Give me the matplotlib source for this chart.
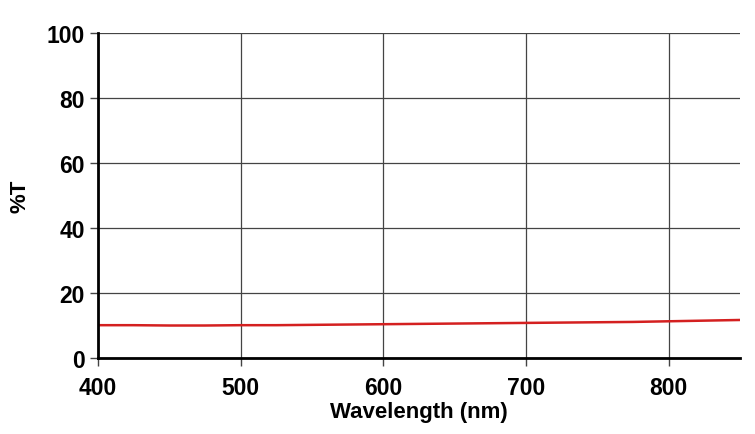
import numpy as np
import matplotlib.pyplot as plt

plt.rcParams['font.family'] = ['Liberation Sans', 'DejaVu Sans']

# transmission curve
wavelength = [400, 425, 450, 475, 500, 525, 550, 575, 600, 625, 650, 675,
              700, 725, 750, 775, 800, 825, 850]
transmission = [10.1, 10.1, 10.0, 10.0, 10.1, 10.1, 10.2, 10.3, 10.4, 10.5,
                10.6, 10.7, 10.8, 10.9, 11.0, 11.1, 11.3, 11.5, 11.7]

x_ticks = [400, 500, 600, 700, 800]
y_ticks = [0, 20, 40, 60, 80, 100]

fig = plt.figure(figsize=(7.55, 4.35), dpi=100)
ax = fig.add_axes([0.1298, 0.1747, 0.8502, 0.7471])

ax.plot(wavelength, transmission, color='#d42020', linewidth=1.8)

ax.set_xlim(400, 850)
ax.set_ylim(0, 100)
ax.set_xticks(x_ticks)
ax.set_yticks(y_ticks)
ax.grid(True, color='#444444', linewidth=0.9)
ax.set_axisbelow(True)

for side in ['top', 'right']:
    ax.spines[side].set_visible(False)
for side in ['left', 'bottom']:
    ax.spines[side].set_linewidth(2)
    ax.spines[side].set_color('black')

ax.tick_params(axis='both', labelsize=16.5, width=1, length=6, color='#444444')
ax.tick_params(axis='x', pad=7)
for lbl in ax.get_xticklabels() + ax.get_yticklabels():
    lbl.set_fontweight('bold')

ax.set_xlabel('Wavelength (nm)', fontsize=16, fontweight='bold')
ax.set_ylabel('%T', fontsize=16, fontweight='bold')
ax.xaxis.set_label_coords(0.5, -0.166, transform=ax.transAxes)
ax.yaxis.set_label_coords(-0.1215, 0.5, transform=ax.transAxes)
ax.xaxis.label.set_va('center')
ax.yaxis.label.set_va('center')

fig.savefig('out.png', dpi=100)
